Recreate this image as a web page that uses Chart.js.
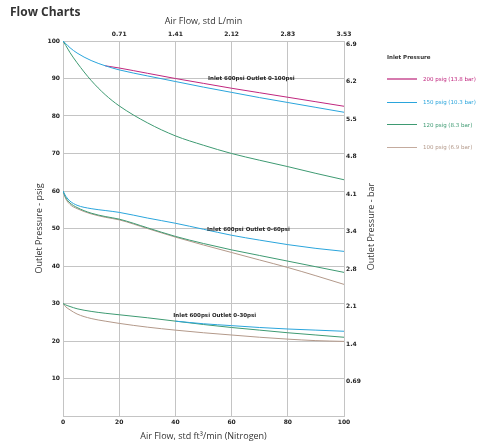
<!DOCTYPE html>
<html>
<head>
<meta charset="utf-8">
<script src="https://cdn.jsdelivr.net/npm/chart.js@4.4.1/dist/chart.umd.min.js"></script>
<style>
  body { margin: 0; background: #fff; }
  #wrap { position: relative; width: 490px; height: 447px; }
  #heading { position: absolute; left: 10px; top: 3px; font: bold 12px "Open Sans", sans-serif; color: #333; }
  #legend { position: absolute; left: 387px; top: 54px; font-family: "DejaVu Sans", sans-serif; font-size: 5.5px; }
  #legend .ttl { font-weight: bold; color: #333; margin-bottom: 8px; }
  #legend .item { display: flex; align-items: center; height: 22.7px; }
  #legend .swatch { width: 30px; margin-right: 6px; }
</style>
</head>
<body>
<div id="wrap">
  <canvas id="grafico" width="490" height="447"></canvas>
  <div id="heading">Flow Charts</div>
  <div id="legend"></div>
</div>
<script>
// valores
const vazao = [0, 1, 2.5, 5, 10, 15, 20, 30, 40, 50, 60, 70, 80, 90, 100];

// saida 0-100 psi
const p200_100 = [null, null, null, null, null, 93.4, 92.8, 91.4, 90.0, 88.7, 87.4, 86.2, 85.0, 83.8, 82.6];
const p150_100 = [100, 99.3, 98.2, 96.8, 94.8, 93.4, 92.3, 90.7, 89.2, 87.7, 86.3, 84.9, 83.6, 82.3, 81.0];
const p120_100 = [100, 98.8, 96.9, 94.2, 89.5, 85.7, 82.7, 78.2, 74.7, 72.2, 70.0, 68.2, 66.5, 64.7, 63.0];

// saida 0-60 psi
const p150_60 = [60, 58.6, 57.3, 56.2, 55.3, 54.8, 54.3, 52.8, 51.4, 49.8, 48.2, 46.9, 45.7, 44.7, 43.9];
const p120_60 = [60, 58.2, 56.8, 55.6, 54.1, 53.2, 52.5, 50.2, 47.9, 46.0, 44.3, 42.8, 41.3, 39.8, 38.3];
const p100_60 = [60, 57.9, 56.4, 55.3, 53.9, 53.0, 52.3, 50.0, 47.7, 45.6, 43.6, 41.6, 39.6, 37.4, 35.1];

// saida 0-30 psi
const p150_30 = [null, null, null, null, null, null, null, null, 25.3, 24.6, 24.1, 23.6, 23.2, 22.9, 22.6];
const p120_30 = [30, 29.6, 29.2, 28.6, 27.9, 27.4, 27.0, 26.2, 25.3, 24.4, 23.6, 22.9, 22.2, 21.6, 21.0];
const p100_30 = [30, 29.1, 28.3, 27.2, 26.0, 25.3, 24.7, 23.7, 22.9, 22.2, 21.6, 21.0, 20.5, 20.1, 19.9];

const barLabels = ['0.69', '1.4', '2.1', '2.8', '3.4', '4.1', '4.8', '5.5', '6.2', '6.9'];
const litrosLabels = ['0.71', '1.41', '2.12', '2.83', '3.53'];

const legendas = ['200 psig (13.8 bar)', '150 psig (10.3 bar)', '120 psig (8.3 bar)', '100 psig (6.9 bar)'];

const notas = ['Inlet 600psi Outlet 0-100psi', 'Inlet 600psi Outlet 0-60psi', 'Inlet 600psi Outlet 0-30psi'];
const notasX = [67, 66, 54];
const notasY = [90, 49.8, 26.7];

const tituloBar = 'Outlet Pressure - bar';

const cores = {
    p200: '#c0267e',
    p150: '#2aa5dc',
    p120: '#3e9a72',
    p100: '#b3998a'
};

function pontos(valores) {
    const out = [];
    valores.forEach((v, i) => {
        if (v !== null) out.push({ x: vazao[i], y: v });
    });
    return out;
}

function serie(valores, cor) {
    return {
        data: pontos(valores),
        borderColor: cor,
        borderWidth: 1,
        pointRadius: 0,
        cubicInterpolationMode: 'monotone',
        fill: false
    };
}

const tickFont = { family: 'DejaVu Sans', size: 6, weight: 'bold' };
const titleFont = { family: 'Open Sans', size: 9 };
const gridCor = '#c4c4c4';

const notasPlugin = {
    id: 'notas',
    afterDatasetsDraw(chart) {
        const ctx = chart.ctx;
        const x = chart.scales.x;
        const y = chart.scales.y;
        ctx.save();
        ctx.font = 'bold 5.5px "DejaVu Sans"';
        ctx.fillStyle = '#222';
        ctx.textAlign = 'center';
        ctx.textBaseline = 'middle';
        notas.forEach((t, i) => {
            ctx.fillText(t, x.getPixelForValue(notasX[i]), y.getPixelForValue(notasY[i]));
        });
        ctx.restore();

        // titulo do eixo direito, lido de baixo para cima como o esquerdo
        const area = chart.chartArea;
        ctx.save();
        ctx.translate(area.right + 27, (area.top + area.bottom) / 2 - 2);
        ctx.rotate(-Math.PI / 2);
        ctx.font = titleFont.size + 'px "' + titleFont.family + '"';
        ctx.fillStyle = '#333';
        ctx.textAlign = 'center';
        ctx.textBaseline = 'middle';
        ctx.fillText(tituloBar, 0, 0);
        ctx.restore();
    }
};

const ctx = document.getElementById('grafico').getContext('2d');
new Chart(ctx, {
    type: 'line',
    data: {
        datasets: [
            serie(p150_100, cores.p150),
            serie(p200_100, cores.p200),
            serie(p120_100, cores.p120),
            serie(p150_60, cores.p150),
            serie(p120_60, cores.p120),
            serie(p100_60, cores.p100),
            serie(p150_30, cores.p150),
            serie(p120_30, cores.p120),
            serie(p100_30, cores.p100)
        ]
    },
    options: {
        responsive: false,
        animation: false,
        layout: { padding: { left: 30, right: 100, top: 0, bottom: 0 } },
        plugins: { legend: { display: false }, tooltip: { enabled: false } },
        scales: {
            x: {
                type: 'linear',
                position: 'bottom',
                min: 0, max: 100,
                afterFit: s => { s.height = 31; },
                grid: { color: gridCor, drawTicks: false },
                border: { color: gridCor },
                ticks: { stepSize: 20, padding: 3, color: '#222', font: tickFont },
                title: { display: true, text: 'Air Flow, std ft³/min (Nitrogen)', color: '#333', font: titleFont, padding: { top: 0, bottom: 5 } }
            },
            x2: {
                type: 'linear',
                position: 'top',
                min: 0, max: 100,
                afterFit: s => { s.height = 41; },
                grid: { display: false, drawTicks: false },
                border: { color: gridCor },
                ticks: {
                    stepSize: 20, padding: 3, color: '#222', font: tickFont,
                    callback: v => litrosLabels[v / 20 - 1] || ''
                },
                title: { display: true, text: 'Air Flow, std L/min', color: '#333', font: titleFont, padding: { top: 16, bottom: 0 } }
            },
            y: {
                type: 'linear',
                position: 'left',
                min: 0, max: 100,
                afterFit: s => { s.width = 33; },
                grid: { color: gridCor, drawTicks: false },
                border: { color: gridCor },
                ticks: {
                    stepSize: 10, padding: 3, color: '#222', font: tickFont,
                    callback: v => v === 0 ? '' : v
                },
                title: { display: true, text: 'Outlet Pressure - psig', color: '#333', font: titleFont, padding: { top: 4, bottom: 0 } }
            },
            y2: {
                type: 'linear',
                position: 'right',
                min: 0, max: 100,
                afterFit: s => { s.width = 46; },
                grid: { display: false, drawTicks: false },
                border: { color: gridCor },
                ticks: {
                    stepSize: 10, padding: 2, labelOffset: 3, color: '#222', font: tickFont,
                    callback: v => barLabels[v / 10 - 1] || ''
                }
            }
        }
    },
    plugins: [notasPlugin]
});

// legenda
const legendaCores = [cores.p200, cores.p150, cores.p120, cores.p100];
const legendaLinha = ['#d67aae', cores.p150, cores.p120, '#c4ab9e'];
const legendaEsp = [2, 1, 1, 1.5];
const leg = document.getElementById('legend');
leg.innerHTML = '<div class="ttl">Inlet Pressure</div>';
legendas.forEach((txt, i) => {
    const item = document.createElement('div');
    item.className = 'item';
    item.innerHTML = '<div class="swatch" style="height:' + legendaEsp[i] + 'px;background:' + legendaLinha[i] + '"></div>' +
        '<span style="color:' + legendaCores[i] + '">' + txt + '</span>';
    leg.appendChild(item);
});
</script>
</body>
</html>
